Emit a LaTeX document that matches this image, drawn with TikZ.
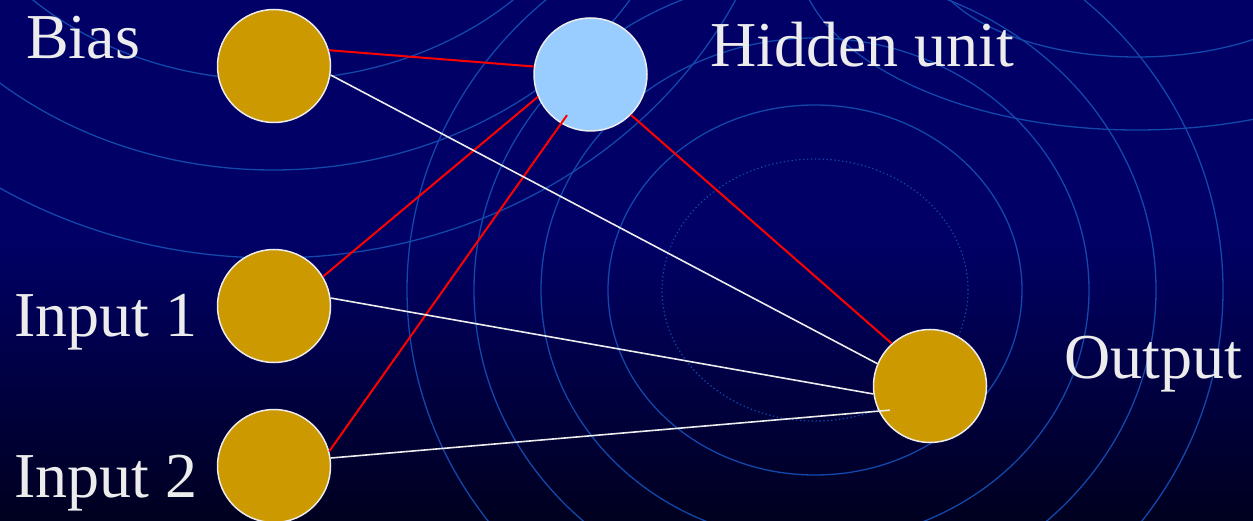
\documentclass[tikz,border=0pt]{standalone}
\usepackage{fontspec}
\setmainfont{Liberation Serif}
\usetikzlibrary{calc}
\definecolor{bgtop}{RGB}{0,0,102}
\definecolor{bgbot}{RGB}{0,0,32}
\definecolor{ringc}{RGB}{18,72,170}
\definecolor{gold}{RGB}{204,153,0}
\definecolor{sky}{RGB}{153,204,255}
\definecolor{rim}{RGB}{236,236,236}
\definecolor{txt}{RGB}{236,236,236}
\begin{document}
\begin{tikzpicture}[x=1pt,y=-1pt,
  ringline/.style={draw=ringc,line width=1.3pt},
  dotring/.style={draw=ringc,line width=1.2pt,dash pattern=on 1.3pt off 2.6pt},
  neuron/.style={circle,draw=rim,line width=1.5pt,minimum size=113pt,inner sep=0pt},
  lbl/.style={text=txt,anchor=base west,inner sep=0pt,font=\fontsize{64}{64}\selectfont},
  wred/.style={draw=red,line width=2pt},
  wwhite/.style={draw=rim,line width=1.6pt}]
\useasboundingbox (0,0) rectangle (1253,521);
\begin{scope}
\clip (0,0) rectangle (1253,521);
\fill[bgtop] (0,0) rectangle (1253,241);
\shade[top color=bgtop,bottom color=bgbot] (0,240) rectangle (1253,521);
% big ripple set
\draw[dotring] (815,290) ellipse [x radius=153pt, y radius=131pt];
\draw[ringline] (815,290) ellipse [x radius=207pt, y radius=185pt];
\draw[ringline] (815,290) ellipse [x radius=274pt, y radius=252pt];
\draw[ringline] (815,290) ellipse [x radius=341pt, y radius=315pt];
\draw[ringline] (815,290) ellipse [x radius=408pt, y radius=386pt];
% top-left ripple set
\draw[ringline] (273,-200) ellipse [x radius=343pt, y radius=280pt];
\draw[ringline] (273,-200) ellipse [x radius=424pt, y radius=370pt];
\draw[ringline] (273,-200) ellipse [x radius=514pt, y radius=458pt];
% top-right ripple set
\draw[ringline] (1137,-48) ellipse [x radius=210pt, y radius=105pt];
\draw[ringline] (1137,-48) ellipse [x radius=340pt, y radius=178pt];
\end{scope}
% units
\node[neuron,fill=gold] (bias) at (274,66) {};
\node[neuron,fill=sky] (hidden) at (590.5,74.5) {};
\node[neuron,fill=gold] (in1) at (274,306) {};
\node[neuron,fill=gold] (in2) at (274,466) {};
\node[neuron,fill=gold] (out) at (930,386) {};
% labels
\node[lbl] (tbias) at (26,59) {Bias};
\node[lbl] (thid) at (710,67) {Hidden unit};
\node[lbl] (tin1) at (14,337) {Input 1};
\node[lbl] (tin2) at (14,497) {Input 2};
\node[lbl] (tout) at (1064,378) {Output};
% connections
\draw[wred] (bias.16) -- (hidden.172);
\draw[wred] (in1.31) -- (hidden.203);
\draw[wred] (in2.15) -- ($(hidden.center)!0.82!(hidden.240)$);
\draw[wred] (hidden.-45) -- (out.132);
\draw[wwhite] (bias.-9) -- (out.157);
\draw[wwhite] (in1.8) -- (out.188);
\draw[wwhite] (in2.8) -- ($(out.center)!0.82!(out.211)$);
\end{tikzpicture}
\end{document}
